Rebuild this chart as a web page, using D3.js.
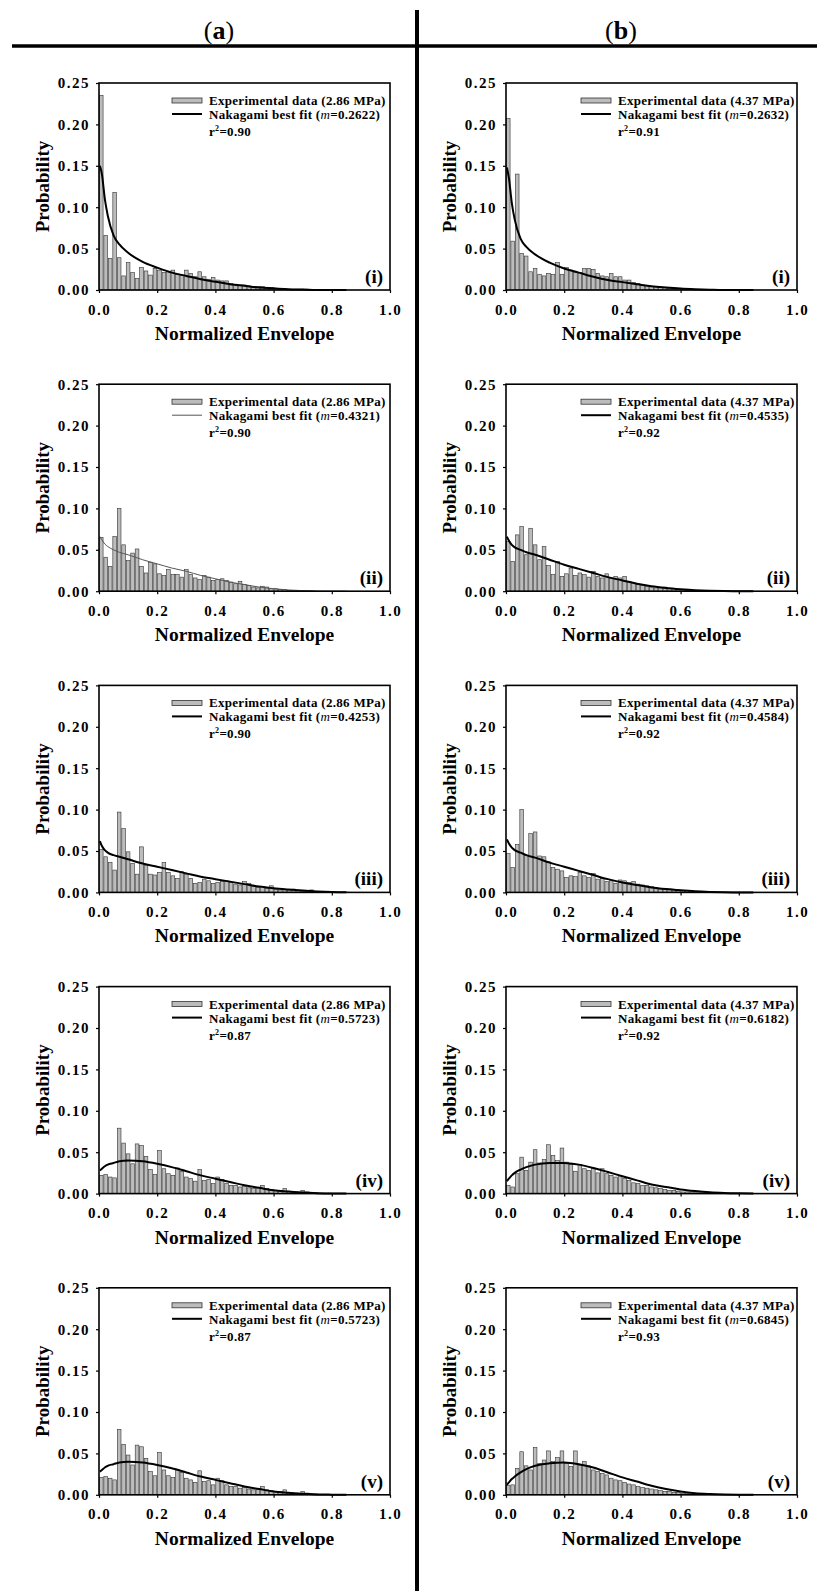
<!DOCTYPE html>
<html>
<head>
<meta charset="utf-8">
<script src="https://cdn.jsdelivr.net/npm/d3@7"></script>
<style>
  body { margin: 0; background: #fff; }
  svg { display: block; }
  text { font-family: "Liberation Serif", "Times New Roman", serif; font-weight: bold; fill: #000; }
</style>
</head>
<body>
<svg id="chart" width="817" height="1591"></svg>
<script>

// ---- data ----
const binWidth = 1 / 65;
const columnHeads = ["a", "b"];
const pressures = ["2.86 MPa", "4.37 MPa"];
const panelTags = ["(i)", "(ii)", "(iii)", "(iv)", "(v)"];
const mValuesA = ["0.2622", "0.4321", "0.4253", "0.5723", "0.5723"];
const mValuesB = ["0.2632", "0.4535", "0.4584", "0.6182", "0.6845"];
const r2ValuesA = ["0.90", "0.90", "0.90", "0.87", "0.87"];
const r2ValuesB = ["0.91", "0.92", "0.92", "0.92", "0.93"];
const yTicks = [0, 0.05, 0.10, 0.15, 0.20, 0.25];
const xTicks = [0, 0.2, 0.4, 0.6, 0.8, 1.0];

// histogram heights, one value per bin
const barsA1 = [0.235, 0.066, 0.038, 0.118, 0.039, 0.017, 0.033, 0.021, 0.014, 0.027, 0.023, 0.018, 0.026, 0.024, 0.021, 0.022, 0.024, 0.019, 0.018, 0.024, 0.020, 0.016, 0.022, 0.016, 0.013, 0.015, 0.012, 0.011, 0.011, 0.008, 0.007, 0.006, 0.006, 0.005, 0.004, 0.004, 0.004, 0.003, 0.003, 0.002, 0.002, 0.002, 0.001, 0.001, 0.001, 0.001, 0.001, 0.0005, 0.0005, 0.0005];
const barsA2 = [0.065, 0.041, 0.030, 0.066, 0.100, 0.056, 0.037, 0.046, 0.051, 0.030, 0.022, 0.035, 0.033, 0.021, 0.019, 0.026, 0.020, 0.020, 0.017, 0.026, 0.020, 0.016, 0.014, 0.019, 0.017, 0.013, 0.014, 0.015, 0.013, 0.011, 0.009, 0.012, 0.008, 0.007, 0.005, 0.004, 0.006, 0.005, 0.003, 0.003, 0.002, 0.002, 0.001, 0.001, 0.001, 0.001, 0.0005, 0.0005];
const barsA3 = [0.052, 0.043, 0.036, 0.027, 0.097, 0.077, 0.049, 0.035, 0.022, 0.055, 0.033, 0.022, 0.021, 0.024, 0.036, 0.024, 0.020, 0.017, 0.025, 0.022, 0.017, 0.011, 0.012, 0.016, 0.014, 0.011, 0.012, 0.013, 0.014, 0.012, 0.010, 0.009, 0.013, 0.011, 0.008, 0.006, 0.007, 0.005, 0.008, 0.004, 0.003, 0.004, 0.003, 0.004, 0.002, 0.001, 0.001, 0.003, 0.001, 0.001, 0.0005, 0.0005, 0.0005, 0.0003, 0.0003, 0.0003];
const barsA4 = [0.022, 0.023, 0.020, 0.019, 0.079, 0.061, 0.048, 0.036, 0.060, 0.058, 0.045, 0.029, 0.023, 0.052, 0.030, 0.024, 0.022, 0.031, 0.027, 0.020, 0.018, 0.015, 0.029, 0.016, 0.017, 0.012, 0.020, 0.017, 0.012, 0.010, 0.010, 0.008, 0.009, 0.007, 0.006, 0.007, 0.010, 0.006, 0.005, 0.004, 0.004, 0.006, 0.003, 0.002, 0.002, 0.004, 0.002, 0.001, 0.001, 0.0005, 0.0005, 0.0005];
const barsA5 = [0.021, 0.022, 0.020, 0.018, 0.079, 0.061, 0.048, 0.036, 0.060, 0.058, 0.044, 0.028, 0.023, 0.051, 0.030, 0.023, 0.021, 0.030, 0.027, 0.020, 0.018, 0.015, 0.029, 0.016, 0.017, 0.012, 0.020, 0.017, 0.012, 0.010, 0.010, 0.008, 0.009, 0.007, 0.006, 0.007, 0.010, 0.006, 0.005, 0.004, 0.004, 0.006, 0.003, 0.002, 0.002, 0.004, 0.002, 0.001, 0.001, 0.0005, 0.0005, 0.0005];
const barsB1 = [0.207, 0.059, 0.140, 0.044, 0.041, 0.022, 0.026, 0.019, 0.017, 0.020, 0.019, 0.033, 0.019, 0.027, 0.024, 0.021, 0.021, 0.026, 0.026, 0.025, 0.020, 0.017, 0.016, 0.020, 0.016, 0.016, 0.012, 0.012, 0.009, 0.008, 0.006, 0.005, 0.004, 0.004, 0.003, 0.003, 0.002, 0.002, 0.002, 0.001, 0.001, 0.001, 0.0005, 0.0005, 0.0005];
const barsB2 = [0.060, 0.036, 0.068, 0.078, 0.044, 0.076, 0.056, 0.038, 0.054, 0.031, 0.020, 0.036, 0.018, 0.021, 0.028, 0.019, 0.022, 0.020, 0.017, 0.024, 0.018, 0.016, 0.021, 0.016, 0.018, 0.016, 0.018, 0.012, 0.010, 0.008, 0.007, 0.006, 0.005, 0.004, 0.004, 0.005, 0.003, 0.003, 0.002, 0.002, 0.001, 0.001, 0.001, 0.001, 0.0005, 0.0005];
const barsB3 = [0.047, 0.030, 0.058, 0.100, 0.045, 0.071, 0.073, 0.044, 0.043, 0.037, 0.030, 0.028, 0.026, 0.018, 0.020, 0.019, 0.024, 0.020, 0.018, 0.023, 0.016, 0.017, 0.013, 0.014, 0.011, 0.015, 0.014, 0.012, 0.013, 0.010, 0.009, 0.008, 0.007, 0.006, 0.005, 0.004, 0.004, 0.003, 0.003, 0.002, 0.002, 0.002, 0.001, 0.001, 0.001, 0.0005, 0.0005];
const barsB4 = [0.010, 0.008, 0.024, 0.044, 0.028, 0.038, 0.053, 0.037, 0.041, 0.059, 0.046, 0.040, 0.055, 0.038, 0.035, 0.027, 0.035, 0.030, 0.028, 0.031, 0.025, 0.030, 0.024, 0.022, 0.020, 0.022, 0.018, 0.016, 0.013, 0.012, 0.010, 0.010, 0.008, 0.007, 0.006, 0.005, 0.004, 0.004, 0.003, 0.002, 0.002, 0.002, 0.001, 0.001, 0.001, 0.0005, 0.0005, 0.0005, 0.0005, 0.0005, 0.0005];
const barsB5 = [0.011, 0.012, 0.032, 0.052, 0.035, 0.030, 0.057, 0.038, 0.042, 0.053, 0.040, 0.045, 0.053, 0.038, 0.034, 0.053, 0.036, 0.040, 0.035, 0.030, 0.028, 0.026, 0.024, 0.020, 0.018, 0.017, 0.015, 0.013, 0.012, 0.010, 0.009, 0.008, 0.007, 0.006, 0.005, 0.004, 0.004, 0.003, 0.003, 0.002, 0.002, 0.001, 0.001, 0.001, 0.0005, 0.0005, 0.0005];

// Nakagami fit curves, sampled at fitX
const fitX = [0.003, 0.01, 0.02, 0.03, 0.05, 0.07, 0.1, 0.15, 0.2, 0.25, 0.3, 0.35, 0.4, 0.45, 0.5, 0.55, 0.6, 0.65, 0.7, 0.75, 0.8, 0.85];
const fitA1 = [0.150, 0.140, 0.110, 0.090, 0.066, 0.055, 0.045, 0.034, 0.027, 0.021, 0.017, 0.013, 0.010, 0.007, 0.005, 0.003, 0.002, 0.001, 0.0005, 0, 0, 0];
const fitA2 = [0.066, 0.062, 0.057, 0.054, 0.050, 0.047, 0.044, 0.038, 0.033, 0.028, 0.024, 0.019, 0.015, 0.011, 0.008, 0.005, 0.003, 0.0015, 0.0007, 0.0002, 0, 0];
const fitA3 = [0.062, 0.056, 0.051, 0.048, 0.045, 0.043, 0.040, 0.035, 0.031, 0.027, 0.023, 0.019, 0.016, 0.013, 0.010, 0.007, 0.005, 0.0035, 0.0022, 0.0012, 0.0005, 0.0002];
const fitA4 = [0.028, 0.030, 0.033, 0.035, 0.037, 0.039, 0.040, 0.039, 0.036, 0.032, 0.027, 0.022, 0.018, 0.014, 0.010, 0.007, 0.004, 0.0025, 0.0012, 0.0005, 0.0002, 0];
const fitA5 = [0.028, 0.030, 0.033, 0.035, 0.037, 0.039, 0.040, 0.039, 0.036, 0.032, 0.027, 0.022, 0.018, 0.014, 0.010, 0.007, 0.004, 0.0025, 0.0012, 0.0005, 0.0002, 0];
const fitB1 = [0.148, 0.135, 0.105, 0.085, 0.062, 0.052, 0.043, 0.033, 0.026, 0.021, 0.016, 0.012, 0.0095, 0.007, 0.0045, 0.003, 0.0018, 0.001, 0.0004, 0, 0, 0];
const fitB2 = [0.066, 0.061, 0.056, 0.053, 0.050, 0.047, 0.044, 0.038, 0.032, 0.027, 0.022, 0.017, 0.013, 0.009, 0.006, 0.004, 0.0025, 0.0013, 0.0006, 0.0002, 0, 0];
const fitB3 = [0.064, 0.059, 0.054, 0.051, 0.048, 0.045, 0.042, 0.036, 0.031, 0.026, 0.021, 0.016, 0.012, 0.009, 0.006, 0.004, 0.0025, 0.0013, 0.0006, 0.0002, 0, 0];
const fitB4 = [0.015, 0.018, 0.022, 0.025, 0.029, 0.032, 0.035, 0.037, 0.037, 0.035, 0.031, 0.026, 0.021, 0.016, 0.011, 0.008, 0.005, 0.003, 0.0015, 0.0007, 0.0003, 0.0001];
const fitB5 = [0.012, 0.015, 0.019, 0.022, 0.027, 0.031, 0.035, 0.038, 0.039, 0.037, 0.033, 0.027, 0.021, 0.016, 0.011, 0.007, 0.004, 0.002, 0.001, 0.0004, 0.0001, 0];

const barsByCol = [[barsA1, barsA2, barsA3, barsA4, barsA5], [barsB1, barsB2, barsB3, barsB4, barsB5]];
const fitsByCol = [[fitA1, fitA2, fitA3, fitA4, fitA5], [fitB1, fitB2, fitB3, fitB4, fitB5]];
const mByCol = [mValuesA, mValuesB];
const r2ByCol = [r2ValuesA, r2ValuesB];

// ---- layout ----
const svg = d3.select("#chart");
const plotWidth = 291;
const plotHeight = 207;
const colLeft = [99, 506];
const rowTop = 83;
const rowStep = 301.2;

const xScale = d3.scaleLinear().domain([0, 1]).range([0, plotWidth]);
const yScale = d3.scaleLinear().domain([0, 0.25]).range([plotHeight, 0]);

// header and separators
svg.append("line")
    .attr("x1", 12).attr("x2", 817)
    .attr("y1", 46).attr("y2", 46)
    .attr("stroke", "#000").attr("stroke-width", 3.5);
svg.append("line")
    .attr("x1", 417).attr("x2", 417)
    .attr("y1", 10).attr("y2", 1591)
    .attr("stroke", "#000").attr("stroke-width", 4);

columnHeads.forEach((h, c) => {
  const t = svg.append("text")
      .attr("x", c === 0 ? 219 : 621)
      .attr("y", 39)
      .attr("text-anchor", "middle")
      .style("font-size", "26px");
  t.append("tspan").style("font-weight", "normal").text("(");
  t.append("tspan").text(h);
  t.append("tspan").style("font-weight", "normal").text(")");
});

const drawPanel = (c, r) => {
  const bars = barsByCol[c][r];
  const fit = fitsByCol[c][r];
  const thinFit = c === 0 && r === 1;

  const g = svg.append("g")
      .attr("transform", `translate(${colLeft[c]}, ${rowTop + r * rowStep})`);

  // histogram
  g.append("g")
    .selectAll("rect")
    .data(bars)
    .join("rect")
      .attr("x", (d, i) => xScale(i * binWidth) + 0.4)
      .attr("y", d => yScale(d))
      .attr("width", xScale(binWidth) - xScale(0) - 0.8)
      .attr("height", d => yScale(0) - yScale(d))
      .attr("fill", "#bcbcbc")
      .attr("stroke", "#333")
      .attr("stroke-width", 0.6);

  // fitted curve
  const line = d3.line()
    .x(d => xScale(d[0]))
    .y(d => yScale(d[1]))
    .curve(d3.curveMonotoneX);
  g.append("path")
      .datum(fitX.map((x, i) => [x, fit[i]]))
      .attr("d", line)
      .attr("fill", "none")
      .attr("stroke", thinFit ? "#555" : "#000")
      .attr("stroke-width", thinFit ? 1 : 2);

  // axes
  const yAxis = d3.axisLeft(yScale)
    .tickValues(yTicks)
    .tickFormat(d3.format(".2f"))
    .tickSize(3)
    .tickPadding(6);
  g.append("g")
      .call(yAxis)
      .call(a => a.select(".domain").remove())
      .call(a => a.selectAll("line").attr("stroke-width", 1.2))
      .call(a => a.selectAll("text")
        .style("font-size", "15px")
        .style("letter-spacing", "1.5px")
        .attr("font-family", null));

  const xAxis = d3.axisBottom(xScale)
    .tickValues(xTicks)
    .tickFormat(d3.format(".1f"))
    .tickSize(3)
    .tickPadding(11);
  g.append("g")
      .attr("transform", `translate(0, ${plotHeight})`)
      .call(xAxis)
      .call(a => a.select(".domain").remove())
      .call(a => a.selectAll("line").attr("stroke-width", 1.2))
      .call(a => a.selectAll("text")
        .style("font-size", "15px")
        .style("letter-spacing", "1.5px")
        .attr("font-family", null));

  g.append("rect")
      .attr("width", plotWidth)
      .attr("height", plotHeight)
      .attr("fill", "none")
      .attr("stroke", "#000")
      .attr("stroke-width", 1.6);

  // axis titles
  g.append("text")
      .attr("transform", `translate(-57, ${plotHeight / 2}) rotate(-90)`)
      .attr("text-anchor", "middle")
      .attr("dy", "0.35em")
      .style("font-size", "19px")
      .text("Probability");
  g.append("text")
      .attr("x", plotWidth / 2)
      .attr("y", plotHeight + 50)
      .attr("text-anchor", "middle")
      .style("font-size", "19.5px")
      .text("Normalized Envelope");

  // legend
  const lx = c === 0 ? 110 : 112;
  g.append("rect")
      .attr("x", lx - 37).attr("y", 15)
      .attr("width", 30).attr("height", 5)
      .attr("fill", "#bcbcbc")
      .attr("stroke", "#333")
      .attr("stroke-width", 0.8);
  g.append("line")
      .attr("x1", lx - 37).attr("x2", lx - 7)
      .attr("y1", 31).attr("y2", 31)
      .attr("stroke", thinFit ? "#555" : "#000")
      .attr("stroke-width", thinFit ? 1 : 2);

  const legend = g.append("g")
      .style("font-size", "13px")
      .style("letter-spacing", "0.3px");
  legend.append("text")
      .attr("x", lx).attr("y", 22)
      .text(`Experimental data (${pressures[c]})`);
  const fitLabel = legend.append("text")
      .attr("x", lx).attr("y", 36);
  fitLabel.append("tspan").text("Nakagami best fit (");
  fitLabel.append("tspan").style("font-style", "italic").style("font-weight", "normal").text("m");
  fitLabel.append("tspan").text(`=${mByCol[c][r]})`);
  const r2Label = legend.append("text")
      .attr("x", lx).attr("y", 53);
  r2Label.append("tspan").text("r");
  r2Label.append("tspan").attr("dy", -5).style("font-size", "8px").text("2");
  r2Label.append("tspan").attr("dy", 5).text(`=${r2ByCol[c][r]}`);

  // panel tag
  g.append("text")
      .attr("x", plotWidth - 7)
      .attr("y", plotHeight - 7)
      .attr("text-anchor", "end")
      .style("font-size", "19px")
      .text(panelTags[r]);
};

[0, 1].forEach(c => {
  d3.range(5).forEach(r => drawPanel(c, r));
});

</script>
</body>
</html>
